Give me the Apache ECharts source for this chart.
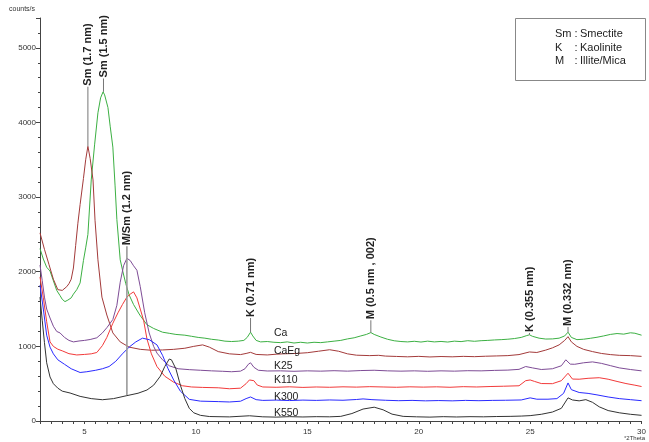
<!DOCTYPE html>
<html>
<head>
<meta charset="utf-8">
<script src="https://cdn.jsdelivr.net/npm/echarts@6/dist/echarts.min.js"></script>
<style>
  html, body { margin: 0; padding: 0; background: #fff; }
  #chart { width: 649px; height: 442px; }
</style>
</head>
<body>
<div id="chart"></div>
<script>
// XRD patterns, [°2Theta, counts/s]
const ca = [[3,2310],[3.15,2170],[3.3,2060],[3.45,2010],[3.6,1880],[3.75,1750],[3.9,1680],[4.0,1630],[4.12,1600],[4.25,1620],[4.4,1650],[4.5,1700],[4.65,1760],[4.8,1850],[4.95,2150],[5.05,2320],[5.15,2500],[5.3,3230],[5.45,3700],[5.6,4130],[5.72,4330],[5.83,4410],[5.9,4370],[6.05,4200],[6.15,3950],[6.27,3670],[6.37,3150],[6.45,2700],[6.6,2160],[6.72,2000],[6.85,1840],[7.0,1690],[7.2,1560],[7.48,1420],[7.8,1290],[8.1,1240],[8.5,1190],[8.8,1175],[9.1,1160],[9.5,1150],[9.8,1135],[10.1,1120],[10.4,1110],[10.7,1095],[11.0,1085],[11.3,1070],[11.6,1065],[11.9,1070],[12.15,1080],[12.3,1120],[12.45,1190],[12.55,1140],[12.7,1080],[12.9,1060],[13.2,1065],[13.5,1055],[13.8,1050],[14.1,1060],[14.4,1045],[14.7,1055],[15.0,1045],[15.3,1055],[15.6,1050],[15.9,1060],[16.2,1070],[16.5,1080],[16.8,1100],[17.1,1115],[17.4,1140],[17.65,1160],[17.85,1185],[18.0,1160],[18.3,1125],[18.6,1095],[18.9,1075],[19.2,1065],[19.5,1060],[19.8,1068],[20.1,1058],[20.4,1070],[20.7,1060],[21.0,1066],[21.3,1058],[21.6,1070],[21.9,1064],[22.2,1076],[22.5,1068],[22.8,1076],[23.1,1080],[23.4,1086],[23.7,1090],[24.0,1096],[24.3,1105],[24.6,1120],[24.85,1145],[24.97,1155],[25.1,1135],[25.4,1110],[25.7,1098],[26.0,1100],[26.3,1110],[26.55,1140],[26.7,1190],[26.85,1120],[27.1,1090],[27.4,1096],[27.7,1108],[28.0,1122],[28.3,1140],[28.6,1160],[28.9,1172],[29.2,1164],[29.5,1182],[29.7,1176],[30,1150]];

const caEg = [[3,2520],[3.2,2300],[3.4,2100],[3.6,1900],[3.8,1760],[4.0,1750],[4.2,1800],[4.3,1840],[4.4,1900],[4.5,2050],[4.6,2350],[4.7,2650],[4.8,2900],[4.95,3250],[5.05,3500],[5.15,3680],[5.25,3520],[5.38,3230],[5.47,2690],[5.6,2160],[5.78,1660],[6.0,1420],[6.27,1180],[6.6,1060],[7.0,990],[7.5,960],[8.0,948],[8.5,952],[9.0,960],[9.5,975],[9.9,1000],[10.3,1020],[10.6,990],[11.0,930],[11.5,900],[12.0,890],[12.25,905],[12.45,920],[12.7,892],[13.2,885],[13.6,895],[13.9,900],[14.5,905],[15.0,915],[15.5,935],[16.0,955],[16.4,935],[16.8,900],[17.2,882],[17.8,876],[18.2,880],[18.5,870],[19.0,865],[19.5,860],[20.0,866],[20.5,858],[21.0,864],[21.5,860],[22.0,866],[22.5,862],[23.0,868],[23.5,872],[24.0,876],[24.5,890],[24.97,925],[25.3,918],[25.7,950],[26.0,980],[26.3,1020],[26.55,1080],[26.7,1130],[26.85,1060],[27.1,1000],[27.4,960],[27.8,930],[28.2,905],[28.6,890],[29.0,880],[29.5,876],[30,866]];

const k25 = [[3,2090],[3.1,1880],[3.2,1660],[3.3,1500],[3.45,1380],[3.6,1270],[3.75,1200],[3.9,1180],[4.1,1120],[4.3,1080],[4.5,1060],[4.75,1072],[5.0,1080],[5.25,1092],[5.55,1115],[5.8,1180],[6.0,1250],[6.27,1360],[6.45,1550],[6.6,1860],[6.75,2080],[6.9,2180],[7.05,2150],[7.2,2080],[7.35,2020],[7.5,1800],[7.7,1450],[7.9,1180],[8.1,1000],[8.25,910],[8.5,820],[8.8,740],[9.2,700],[9.7,688],[10.2,680],[10.7,672],[11.2,666],[11.6,660],[12.0,668],[12.2,700],[12.35,760],[12.45,780],[12.6,720],[12.8,680],[13.2,670],[13.8,672],[14.4,666],[15.0,672],[15.6,668],[16.2,674],[16.8,668],[17.4,676],[18.0,680],[18.6,672],[19.2,668],[19.8,672],[20.4,666],[21.0,672],[21.6,668],[22.2,674],[22.8,672],[23.4,678],[24.0,682],[24.5,692],[24.8,730],[25.1,712],[25.5,690],[26.0,700],[26.4,740],[26.6,820],[26.8,762],[27.0,760],[27.4,780],[27.8,792],[28.2,772],[28.6,742],[29.0,712],[29.5,690],[30,672]];

const k110 = [[3,1930],[3.15,1650],[3.3,1330],[3.45,1060],[3.6,1000],[3.8,962],[4.0,940],[4.3,902],[4.65,885],[5.0,892],[5.3,900],[5.55,918],[5.8,1010],[6.0,1120],[6.27,1310],[6.5,1450],[6.7,1560],[6.9,1660],[7.05,1700],[7.2,1730],[7.35,1650],[7.5,1500],[7.65,1350],[7.8,1100],[8.0,900],[8.25,730],[8.6,600],[9.0,520],[9.4,472],[9.8,456],[10.3,450],[11.0,445],[11.5,432],[12.0,440],[12.25,500],[12.4,550],[12.6,540],[12.75,482],[13.0,456],[13.6,452],[14.2,458],[14.8,450],[15.4,456],[16.0,452],[16.6,458],[17.2,454],[17.8,460],[18.4,456],[19.0,452],[19.6,458],[20.2,454],[20.8,458],[21.4,452],[22.0,460],[22.6,456],[23.2,462],[23.8,466],[24.5,472],[24.8,540],[25.0,550],[25.2,530],[25.5,502],[26.0,500],[26.4,540],[26.7,640],[26.9,562],[27.2,560],[27.6,572],[28.1,580],[28.5,560],[28.9,530],[29.3,502],[29.7,480],[30,462]];

const k300 = [[3,1820],[3.15,1500],[3.3,1150],[3.45,990],[3.6,900],[3.8,820],[4.1,760],[4.4,700],[4.8,650],[5.1,660],[5.5,680],[5.8,700],[6.1,730],[6.4,800],[6.7,900],[7.0,990],[7.3,1060],[7.6,1110],[7.9,1090],[8.25,1020],[8.5,880],[8.75,700],[9.0,550],[9.3,400],[9.7,290],[10.2,266],[11.0,260],[11.5,255],[12.0,265],[12.25,300],[12.45,322],[12.7,286],[13.0,276],[13.6,280],[14.2,274],[14.8,280],[15.4,276],[16.0,282],[16.6,278],[17.2,288],[17.5,296],[17.9,286],[18.5,278],[19.1,272],[19.7,276],[20.3,270],[20.9,274],[21.5,270],[22.1,276],[22.7,272],[23.3,276],[23.9,278],[24.6,282],[25.0,310],[25.3,292],[25.8,292],[26.2,300],[26.5,370],[26.7,510],[26.85,420],[27.2,382],[27.6,370],[28.0,350],[28.5,322],[29.0,300],[29.5,286],[30,272]];

const k550 = [[3,1660],[3.1,1350],[3.2,1050],[3.3,780],[3.45,590],[3.6,500],[3.8,440],[4.0,400],[4.35,375],[4.8,330],[5.3,300],[5.8,285],[6.3,300],[6.9,340],[7.4,372],[7.8,415],[8.1,480],[8.4,600],[8.6,730],[8.8,830],[8.9,820],[9.1,700],[9.3,480],[9.5,300],[9.7,170],[9.9,110],[10.2,76],[10.6,60],[11.5,55],[12.4,70],[13.0,56],[13.6,52],[14.2,58],[14.8,54],[15.4,58],[16.0,56],[16.5,62],[17.0,100],[17.5,160],[18.0,185],[18.4,150],[18.8,92],[19.3,62],[19.9,56],[20.5,52],[21.1,58],[21.7,54],[22.3,58],[22.9,56],[23.5,60],[24.1,62],[24.6,66],[25.0,72],[25.5,90],[26.0,120],[26.4,170],[26.7,310],[26.9,282],[27.2,270],[27.5,286],[27.8,250],[28.1,190],[28.5,140],[29.0,110],[29.5,90],[30,76]];

const seriesNames = ['Ca', 'CaEg', 'K25', 'K110', 'K300', 'K550'];
const seriesData = [ca, caEg, k25, k110, k300, k550];
const seriesColors = ['#3cb043', '#a33a3a', '#7e4c96', '#f23a3a', '#2a2aff', '#333333'];

// curve name tags, anchored in data units
const tagX = 13.5;
const tagY = [1180, 940, 740, 550, 320, 107];

// reflection labels: x, text, leader line from / to (counts/s)
const peakX = [5.15, 5.85, 6.9, 12.45, 17.85, 24.97, 26.7];
const peakText = ['Sm (1.7 nm)', 'Sm (1.5 nm)', 'M/Sm (1.2 nm)', 'K (0.71 nm)', 'M (0.5 nm , 002)', 'K (0.355 nm)', 'M (0.332 nm)'];
const peakFrom = [3680, 4410, 350, 1190, 1185, 1155, 1190];
const peakTo = [4480, 4590, 2340, 1380, 1350, 1180, 1260];

const xTickLabels = [5, 10, 15, 20, 25, 30];
const yTickLabels = [0, 1000, 2000, 3000, 4000, 5000];

const keyAbbr = ['Sm', 'K', 'M'];
const keyName = ['Smectite', 'Kaolinite', 'Illite/Mica'];

const FONT = '"Liberation Sans", Arial, sans-serif';
const chart = echarts.init(document.getElementById('chart'), null, { renderer: 'canvas' });

const option = {
  animation: false,
  backgroundColor: '#ffffff',
  grid: { left: 40, right: 7, top: 18, bottom: 21, containLabel: false },
  xAxis: {
    type: 'value', min: 3, max: 30, interval: 0.5,
    axisLine: { show: true, lineStyle: { color: '#444', width: 1 } },
    axisTick: { show: true, length: 3, lineStyle: { color: '#444' } },
    splitLine: { show: false },
    axisLabel: {
      fontFamily: FONT, fontSize: 8, color: '#333', margin: 7,
      formatter: v => xTickLabels.indexOf(v) >= 0 ? String(v) : ''
    }
  },
  yAxis: {
    type: 'value', min: 0, max: 5400, interval: 1000,
    axisLine: { show: true, lineStyle: { color: '#444', width: 1 } },
    axisTick: { show: true, length: 4, lineStyle: { color: '#444' } },
    minorTick: { show: true, splitNumber: 5, length: 2, lineStyle: { color: '#444' } },
    splitLine: { show: false },
    axisLabel: {
      fontFamily: FONT, fontSize: 8, color: '#333', margin: 4,
      formatter: v => yTickLabels.indexOf(v) >= 0 ? String(v) : ''
    }
  },
  series: seriesNames.map((name, i) => ({
    name, type: 'line', data: seriesData[i], showSymbol: false,
    lineStyle: { color: seriesColors[i], width: 1 }, z: 2 + i
  })),
  graphic: []
};
chart.setOption(option);

const px = (x, y) => chart.convertToPixel({ gridIndex: 0 }, [x, y]);
const g = [];

// axis titles
g.push({ type: 'text', left: 9, top: 6, style: { text: 'counts/s', font: '7px ' + FONT, fill: '#333' } });
g.push({ type: 'text', right: 4, bottom: 1, style: { text: '°2Theta', font: '6px ' + FONT, fill: '#333' } });

// abbreviation key
g.push({ type: 'rect', shape: { x: 515.5, y: 18.5, width: 130, height: 62 }, style: { fill: '#fff', stroke: '#888', lineWidth: 1 }, z: 20 });
keyAbbr.forEach((abbr, i) => {
  const yy = 34 + i * 13.7;
  const st = { font: '11px ' + FONT, fill: '#222', verticalAlign: 'middle' };
  g.push({ type: 'text', x: 555, y: yy, style: Object.assign({ text: abbr }, st), z: 21 });
  g.push({ type: 'text', x: 574.5, y: yy, style: Object.assign({ text: ':' }, st), z: 21 });
  g.push({ type: 'text', x: 580, y: yy, style: Object.assign({ text: keyName[i] }, st), z: 21 });
});

// reflection leaders and vertical labels
peakX.forEach((x, i) => {
  const a = px(x, peakFrom[i]);
  const b = px(x, peakTo[i]);
  const thick = i === 2;
  g.push({ type: 'line', shape: { x1: a[0], y1: a[1], x2: b[0], y2: b[1] },
    style: { stroke: thick ? '#999' : '#777', lineWidth: thick ? 1.6 : 1 }, z: 15 });
  g.push({ type: 'text', x: b[0], y: b[1] - 1, rotation: Math.PI / 2,
    style: { text: peakText[i], font: 'bold 11px ' + FONT, fill: '#222', align: 'left', verticalAlign: 'middle' }, z: 16 });
});

// curve name tags
seriesNames.forEach((name, i) => {
  const p = px(tagX, tagY[i]);
  g.push({ type: 'text', x: p[0], y: p[1], style: { text: name, font: '10.5px ' + FONT, fill: '#222', verticalAlign: 'middle' }, z: 16 });
});

chart.setOption({ graphic: g });
</script>
</body>
</html>
